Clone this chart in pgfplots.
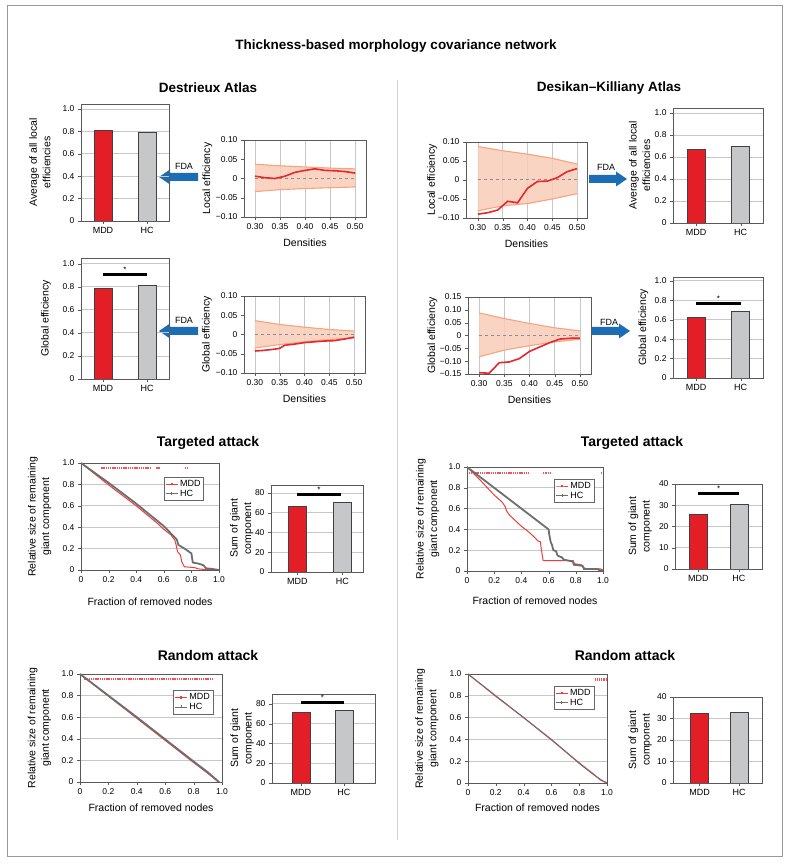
\documentclass[border=0pt]{standalone}
\usepackage{pgfplots}
\pgfplotsset{compat=1.18}
\usepackage{fontspec}
\setmainfont{Liberation Sans}
\definecolor{barred}{HTML}{E41E26}
\definecolor{bargray}{HTML}{C6C7C9}
\definecolor{lnred}{HTML}{E8262D}
\definecolor{bandfill}{HTML}{F9CDB8}
\definecolor{bandedge}{HTML}{F4A47E}
\definecolor{arrowblue}{HTML}{1B6DB5}
\definecolor{mddred}{HTML}{EE3B3B}
\definecolor{hcgray}{HTML}{6E6E6E}
\definecolor{sigred}{HTML}{F2545B}
\newcommand{\tickfont}{\fontsize{8.5}{10}\selectfont}
\newcommand{\labfont}{\fontsize{10.5}{13.5}\selectfont}
\pgfplotsset{
  base/.style={scale only axis, anchor=south west, font=\tickfont,
    axis line style={draw=black!65}, tick style={draw=black!65},
    major tick length=3pt, tick align=outside, tick pos=left,
    grid style={draw=black!22, line width=0.8pt},
    label style={font=\labfont},
    ylabel style={align=center, anchor=center},
    xlabel style={anchor=center}},
  barax/.style={base, ymin=0, xtick={0,1}, xticklabels={MDD,HC},
    x tick label style={font=\fontsize{9}{10}\selectfont}, ymajorgrids},
  effbar/.style={barax, ytick={0,0.2,0.4,0.6,0.8,1.0}, yticklabels={0,0.2,0.4,0.6,0.8,1.0}},
  lineax/.style={base, xmin=0.278, xmax=0.522, xtick={0.30,0.35,0.40,0.45,0.50},
    xticklabels={0.30,0.35,0.40,0.45,0.50}, xmajorgrids, xlabel={Densities}},
  ax10/.style={ymin=-0.10, ymax=0.10, ytick={-0.10,-0.05,0,0.05,0.10},
    yticklabels={−0.10,−0.05,0,0.05,0.10}},
  attack/.style={base, xmin=0, xmax=1, ymin=0, ymax=1,
    xtick={0,0.2,0.4,0.6,0.8,1.0}, xticklabels={0,0.2,0.4,0.6,0.8,1.0},
    ytick={0,0.2,0.4,0.6,0.8,1.0}, yticklabels={0,0.2,0.4,0.6,0.8,1.0},
    ymajorgrids, xlabel={Fraction of removed nodes},
    ylabel={Relative size of remaining\\giant component},
    legend style={font=\fontsize{9}{10}\selectfont, draw=black!60, inner sep=1pt,
      row sep=-2pt, anchor=north east, legend cell align=left},
    legend image code/.code={\draw[mark repeat=2,mark phase=2,##1] plot coordinates {(0pt,0pt) (6pt,0pt) (12pt,0pt)};}},
  sumax/.style={barax, ylabel={Sum of giant\\component}},
  mddbar/.style={ybar, bar width=18pt, bar shift=0pt, fill=barred, draw=black!75, line width=0.6pt},
  hcbar/.style={ybar, bar width=18pt, bar shift=0pt, fill=bargray, draw=black!75, line width=0.6pt},
  sigline/.style={black, line width=3pt, no marks, forget plot},
  band/.style={fill=bandfill, draw=none, fill opacity=0.85, forget plot},
  bedge/.style={bandedge, line width=1.1pt, no marks, forget plot},
  redline/.style={lnred, line width=1.6pt, no marks},
  zeroline/.style={black!45, dashed, line width=0.9pt, no marks},
  mddc/.style={mddred, line width=1pt, no marks, forget plot},
  hcc/.style={hcgray, line width=1.8pt, no marks, forget plot},
  sigdots/.style={sigred, line width=2.2pt, dash pattern=on 1.3pt off 0.9pt, no marks, forget plot},
}
\begin{document}
\begin{tikzpicture}[x=1pt,y=1pt]
\useasboundingbox (0,0) rectangle (791,866);
\draw[black!40, line width=1pt] (7,9) rectangle (782,860);
\draw[black!18, line width=1pt] (397,786) -- (397,26);
\node[font=\fontsize{13.5}{15}\selectfont\bfseries] at (396,820) {Thickness-based morphology covariance network};
\node[font=\fontsize{13.5}{15}\selectfont\bfseries] at (208,778) {Destrieux Atlas};
\node[font=\fontsize{13.5}{15}\selectfont\bfseries] at (609,778) {Desikan–Killiany Atlas};
\node[font=\fontsize{14}{16}\selectfont\bfseries] at (208,423) {Targeted attack};
\node[font=\fontsize{14}{16}\selectfont\bfseries] at (632,423) {Targeted attack};
\node[font=\fontsize{14}{16}\selectfont\bfseries] at (208,211) {Random attack};
\node[font=\fontsize{14}{16}\selectfont\bfseries] at (625,211) {Random attack};
% FDA arrows
\fill[arrowblue] (198,685) -- (170,685) -- (170,681.5) -- (159,689) -- (170,696.5) -- (170,693) -- (198,693) -- cycle;
\node[font=\fontsize{9}{10}\selectfont] at (184,700) {FDA};
\fill[arrowblue] (198,531) -- (170,531) -- (170,527.5) -- (159,535) -- (170,542.5) -- (170,539) -- (198,539) -- cycle;
\node[font=\fontsize{9}{10}\selectfont] at (184,546) {FDA};
\fill[arrowblue] (589,683) -- (616,683) -- (616,679.5) -- (627,687) -- (616,694.5) -- (616,691) -- (589,691) -- cycle;
\node[font=\fontsize{9}{10}\selectfont] at (606,699) {FDA};
\fill[arrowblue] (592,531) -- (619,531) -- (619,527.5) -- (630,535) -- (619,542.5) -- (619,539) -- (592,539) -- cycle;
\node[font=\fontsize{9}{10}\selectfont] at (609,544) {FDA};

% 1 Destrieux average local efficiency
\begin{axis}[effbar, at={(81pt,645pt)}, width=88pt, height=117pt, xmin=-0.5, xmax=1.5, ymax=1.045,
  ylabel={Average of all local\\efficiencies}, ylabel style={at={(axis description cs:-0.466,0.5)}}]
\addplot[mddbar] coordinates {(0,0.81)};
\addplot[hcbar] coordinates {(1,0.79)};
\end{axis}
% 2 Destrieux local efficiency
\begin{axis}[lineax, ax10, at={(244pt,649pt)}, width=122pt, height=77pt,
  ylabel={Local efficiency}, ylabel style={at={(axis description cs:-0.30,0.5)}},
  xlabel style={at={(axis description cs:0.5,-0.34)}}]
\addplot[band] coordinates {(0.30,0.037)(0.35,0.033)(0.40,0.030)(0.45,0.027)(0.50,0.025)(0.50,-0.022)(0.45,-0.024)(0.40,-0.026)(0.35,-0.029)(0.30,-0.034)} -- cycle;
\addplot[bedge] coordinates {(0.30,0.037)(0.35,0.033)(0.40,0.030)(0.45,0.027)(0.50,0.025)};
\addplot[bedge] coordinates {(0.30,-0.034)(0.35,-0.029)(0.40,-0.026)(0.45,-0.024)(0.50,-0.022)};
\addplot[zeroline] coordinates {(0.30,0)(0.50,0)};
\addplot[redline] coordinates {(0.30,0.006)(0.32,0.002)(0.34,0.000)(0.36,0.006)(0.38,0.016)(0.40,0.021)(0.42,0.025)(0.44,0.021)(0.46,0.020)(0.48,0.018)(0.50,0.014)};
\end{axis}
% 3 Destrieux global efficiency bars
\begin{axis}[effbar, at={(81pt,487pt)}, width=88pt, height=121pt, xmin=-0.5, xmax=1.5, ymax=1.05,
  ylabel={Global efficiency}, ylabel style={at={(axis description cs:-0.40,0.5)}}]
\addplot[mddbar] coordinates {(0,0.785)};
\addplot[hcbar] coordinates {(1,0.81)};
\addplot[sigline] coordinates {(0,0.905)(1,0.905)};
\node[font=\fontsize{8}{9}\selectfont, anchor=base, inner sep=0pt] at (axis cs:0.5,0.925) {*};
\end{axis}
% 4 Destrieux global efficiency
\begin{axis}[lineax, ax10, at={(244pt,493pt)}, width=121pt, height=77pt,
  ylabel={Global efficiency}, ylabel style={at={(axis description cs:-0.306,0.5)}},
  xlabel style={at={(axis description cs:0.5,-0.34)}}]
\addplot[band] coordinates {(0.30,0.036)(0.35,0.026)(0.40,0.019)(0.45,0.013)(0.50,0.009)(0.50,-0.009)(0.45,-0.013)(0.40,-0.019)(0.35,-0.026)(0.30,-0.035)} -- cycle;
\addplot[bedge] coordinates {(0.30,0.036)(0.35,0.026)(0.40,0.019)(0.45,0.013)(0.50,0.009)};
\addplot[bedge] coordinates {(0.30,-0.035)(0.35,-0.026)(0.40,-0.019)(0.45,-0.013)(0.50,-0.009)};
\addplot[zeroline] coordinates {(0.30,0)(0.50,0)};
\addplot[redline] coordinates {(0.30,-0.043)(0.32,-0.041)(0.34,-0.038)(0.35,-0.036)(0.36,-0.028)(0.38,-0.025)(0.40,-0.021)(0.42,-0.019)(0.44,-0.017)(0.46,-0.016)(0.48,-0.012)(0.50,-0.007)};
\end{axis}
% 5 DK local efficiency
\begin{axis}[lineax, ax10, at={(466pt,648pt)}, width=121pt, height=76pt, xmin=0.276, xmax=0.52,
  ylabel={Local efficiency}, ylabel style={at={(axis description cs:-0.28,0.5)}},
  xlabel style={at={(axis description cs:0.5,-0.34)}}]
\addplot[band] coordinates {(0.30,0.088)(0.35,0.077)(0.40,0.068)(0.45,0.057)(0.50,0.042)(0.50,-0.036)(0.45,-0.050)(0.40,-0.062)(0.35,-0.068)(0.30,-0.081)} -- cycle;
\addplot[bedge] coordinates {(0.30,0.088)(0.35,0.077)(0.40,0.068)(0.45,0.057)(0.50,0.042)};
\addplot[bedge] coordinates {(0.30,-0.081)(0.35,-0.068)(0.40,-0.062)(0.45,-0.050)(0.50,-0.036)};
\addplot[zeroline] coordinates {(0.30,0.002)(0.50,0.002)};
\addplot[redline] coordinates {(0.30,-0.090)(0.32,-0.086)(0.34,-0.079)(0.36,-0.056)(0.38,-0.060)(0.40,-0.022)(0.42,-0.004)(0.44,-0.003)(0.46,0.006)(0.48,0.022)(0.50,0.030)};
\end{axis}
% 6 DK average local efficiency
\begin{axis}[effbar, at={(673pt,643pt)}, width=90pt, height=115pt, xmin=-0.52, xmax=1.5, ymax=1.045,
  ylabel={Average of all local\\efficiencies}, ylabel style={at={(axis description cs:-0.37,0.5)}}]
\addplot[mddbar] coordinates {(0,0.673)};
\addplot[hcbar] coordinates {(1,0.697)};
\end{axis}
% 7 DK global efficiency
\begin{axis}[lineax, at={(468pt,492pt)}, width=123pt, height=77pt,
  ymin=-0.15, ymax=0.15, ytick={-0.15,-0.10,-0.05,0,0.05,0.10,0.15},
  yticklabels={−0.15,−0.10,−0.05,0,0.05,0.10,0.15},
  ylabel={Global efficiency}, ylabel style={at={(axis description cs:-0.29,0.5)}},
  xlabel style={at={(axis description cs:0.5,-0.34)}}]
\addplot[band] coordinates {(0.30,0.088)(0.35,0.066)(0.40,0.047)(0.45,0.030)(0.50,0.018)(0.50,-0.015)(0.45,-0.025)(0.40,-0.040)(0.35,-0.057)(0.30,-0.083)} -- cycle;
\addplot[bedge] coordinates {(0.30,0.088)(0.35,0.066)(0.40,0.047)(0.45,0.030)(0.50,0.018)};
\addplot[bedge] coordinates {(0.30,-0.083)(0.35,-0.057)(0.40,-0.040)(0.45,-0.025)(0.50,-0.015)};
\addplot[zeroline] coordinates {(0.30,0)(0.50,0)};
\addplot[redline] coordinates {(0.30,-0.145)(0.32,-0.147)(0.34,-0.106)(0.36,-0.103)(0.38,-0.090)(0.40,-0.062)(0.42,-0.045)(0.44,-0.028)(0.46,-0.014)(0.48,-0.011)(0.50,-0.010)};
\end{axis}
% 8 DK global efficiency bars
\begin{axis}[effbar, at={(673pt,488pt)}, width=90pt, height=101pt, xmin=-0.52, xmax=1.5, ymax=1.04,
  ylabel={Global efficiency}, ylabel style={at={(axis description cs:-0.33,0.5)}}]
\addplot[mddbar] coordinates {(0,0.624)};
\addplot[hcbar] coordinates {(1,0.686)};
\addplot[sigline] coordinates {(0,0.762)(1,0.762)};
\node[font=\fontsize{8}{9}\selectfont, anchor=base, inner sep=0pt] at (axis cs:0.5,0.79) {*};
\end{axis}
% 9 Targeted attack Destrieux
\begin{axis}[attack, at={(81pt,296pt)}, width=138pt, height=107pt,
  ylabel style={at={(axis description cs:-0.30,0.5)}},
  xlabel style={at={(axis description cs:0.5,-0.30)}},
  legend style={at={(0.89,0.87)}}]
\addplot[sigdots] coordinates {(0.147,0.953)(0.506,0.953)};
\addplot[sigdots] coordinates {(0.545,0.953)(0.573,0.953)};
\addplot[sigdots] coordinates {(0.75,0.953)(0.78,0.953)};
\addplot[mddc] coordinates {(0,1)(0.2,0.795)(0.4,0.60)(0.55,0.44)(0.6,0.38)(0.65,0.33)(0.68,0.28)(0.69,0.23)(0.70,0.17)(0.72,0.14)(0.73,0.08)(0.74,0.05)(0.75,0.03)(0.80,0.025)(0.83,0.02)(0.85,0.01)(0.9,0.005)(1.0,0)};
\addplot[hcc] coordinates {(0,1)(0.2,0.815)(0.4,0.62)(0.6,0.41)(0.694,0.285)(0.706,0.234)(0.75,0.20)(0.80,0.155)(0.81,0.07)(0.85,0.06)(0.887,0.045)(0.906,0.016)(0.95,0.01)(1.0,0.0)};
\addlegendimage{mddred, line width=0.8pt, mark=square*, mark size=0.8pt}
\addlegendentry{MDD}
\addlegendimage{hcgray, line width=0.8pt, mark=+, mark size=1.5pt}
\addlegendentry{HC}
\end{axis}
% 10 Targeted sum Destrieux
\begin{axis}[sumax, at={(271pt,294pt)}, width=92pt, height=87pt, xmin=-0.59, xmax=1.46, ymax=88,
  ytick={0,20,40,60,80}, yticklabels={0,20,40,60,80},
  ylabel style={at={(axis description cs:-0.32,0.5)}}]
\addplot[mddbar] coordinates {(0,66.5)};
\addplot[hcbar] coordinates {(1,70.9)};
\addplot[sigline] coordinates {(0,78.6)(0.97,78.6)};
\node[font=\fontsize{8}{9}\selectfont, anchor=base, inner sep=0pt] at (axis cs:0.48,80.5) {*};
\end{axis}
% 11 Targeted attack DK
\begin{axis}[attack, at={(467pt,295pt)}, width=136pt, height=104pt,
  ylabel style={at={(axis description cs:-0.29,0.5)}},
  xlabel style={at={(axis description cs:0.5,-0.29)}},
  legend style={at={(0.934,0.885)}}]
\addplot[sigdots] coordinates {(0.012,0.945)(0.456,0.945)};
\addplot[sigdots] coordinates {(0.56,0.945)(0.61,0.945)};
\addplot[sigdots] coordinates {(0.985,0.945)(1.0,0.945)};
\addplot[mddc] coordinates {(0,1)(0.1,0.87)(0.2,0.73)(0.26,0.66)(0.28,0.62)(0.29,0.58)(0.31,0.54)(0.4,0.43)(0.45,0.38)(0.5,0.32)(0.52,0.29)(0.54,0.28)(0.545,0.22)(0.55,0.18)(0.56,0.10)(0.78,0.10)(0.79,0.07)(0.84,0.06)(0.86,0.03)(0.88,0.02)(0.98,0.02)(1.0,0.01)};
\addplot[hcc] coordinates {(0,1)(0.2,0.80)(0.4,0.60)(0.60,0.40)(0.605,0.35)(0.615,0.28)(0.625,0.25)(0.635,0.20)(0.655,0.19)(0.665,0.15)(0.68,0.14)(0.70,0.13)(0.71,0.11)(0.78,0.09)(0.785,0.06)(0.85,0.05)(0.86,0.02)(0.96,0.02)(0.97,0.01)(1.0,0.0)};
\addlegendimage{mddred, line width=0.8pt, mark=square*, mark size=0.8pt}
\addlegendentry{MDD}
\addlegendimage{hcgray, line width=0.8pt, mark=+, mark size=1.5pt}
\addlegendentry{HC}
\end{axis}
% 12 Targeted sum DK
\begin{axis}[sumax, at={(675pt,297pt)}, width=87pt, height=85pt, xmin=-0.58, xmax=1.57, ymax=40,
  ytick={0,10,20,30,40}, yticklabels={0,10,20,30,40},
  ylabel style={at={(axis description cs:-0.40,0.5)}}]
\addplot[mddbar] coordinates {(0,25.6)};
\addplot[hcbar] coordinates {(1,30.5)};
\addplot[sigline] coordinates {(0,35.5)(1,35.5)};
\node[font=\fontsize{8}{9}\selectfont, anchor=base, inner sep=0pt] at (axis cs:0.5,36.5) {*};
\end{axis}
% 13 Random attack Destrieux
\begin{axis}[attack, at={(80pt,84pt)}, width=142pt, height=108pt,
  ylabel style={at={(axis description cs:-0.285,0.5)}},
  xlabel style={at={(axis description cs:0.5,-0.24)}},
  legend style={at={(0.937,0.85)}}]
\addplot[sigdots] coordinates {(0.03,0.95)(0.93,0.95)};
\addplot[mddc] coordinates {(0,1)(0.2,0.795)(0.4,0.59)(0.6,0.385)(0.8,0.18)(0.9,0.08)(0.97,0.005)(0.98,0)};
\addplot[hcc] coordinates {(0,1)(0.2,0.80)(0.4,0.60)(0.6,0.395)(0.8,0.19)(0.9,0.09)(0.97,0.01)(0.98,0)};
\addlegendimage{mddred, line width=0.8pt, mark=square*, mark size=0.8pt}
\addlegendentry{MDD}
\addlegendimage{hcgray, line width=0.8pt, mark=+, mark size=1.5pt}
\addlegendentry{HC}
\end{axis}
% 14 Random sum Destrieux
\begin{axis}[sumax, at={(272pt,83pt)}, width=103pt, height=89pt, xmin=-0.67, xmax=1.72, ymax=90,
  ytick={0,20,40,60,80}, yticklabels={0,20,40,60,80},
  ylabel style={at={(axis description cs:-0.29,0.5)}}]
\addplot[mddbar] coordinates {(0,71.9)};
\addplot[hcbar] coordinates {(1,73.2)};
\addplot[sigline] coordinates {(0,81.4)(1,81.4)};
\node[font=\fontsize{8}{9}\selectfont, anchor=base, inner sep=0pt] at (axis cs:0.5,83.5) {*};
\end{axis}
% 15 Random attack DK
\begin{axis}[attack, at={(468pt,83pt)}, width=139pt, height=109pt,
  ylabel style={at={(axis description cs:-0.295,0.5)}},
  xlabel style={at={(axis description cs:0.5,-0.23)}},
  legend style={at={(0.906,0.89)}}]
\addplot[sigdots] coordinates {(0.91,0.95)(1.0,0.95)};
\addplot[mddc] coordinates {(0,1)(0.2,0.795)(0.4,0.60)(0.6,0.395)(0.8,0.185)(0.9,0.085)(0.95,0.03)(0.98,0.01)(1.0,0.0)};
\addplot[hcgray, line width=1pt, no marks, forget plot] coordinates {(0,1)(0.2,0.80)(0.4,0.60)(0.6,0.40)(0.8,0.18)(0.9,0.08)(0.95,0.035)(0.98,0.012)(1.0,0.005)};
\addlegendimage{mddred, line width=0.8pt, mark=square*, mark size=0.8pt}
\addlegendentry{MDD}
\addlegendimage{hcgray, line width=0.8pt, mark=+, mark size=1.5pt}
\addlegendentry{HC}
\end{axis}
% 16 Random sum DK
\begin{axis}[sumax, at={(673pt,83pt)}, width=89pt, height=86pt, xmin=-0.67, xmax=1.58, ymax=40,
  ytick={0,10,20,30,40}, yticklabels={0,10,20,30,40},
  ylabel style={at={(axis description cs:-0.37,0.5)}}]
\addplot[mddbar] coordinates {(0,32.6)};
\addplot[hcbar] coordinates {(1,32.7)};
\end{axis}
\end{tikzpicture}
\end{document}
